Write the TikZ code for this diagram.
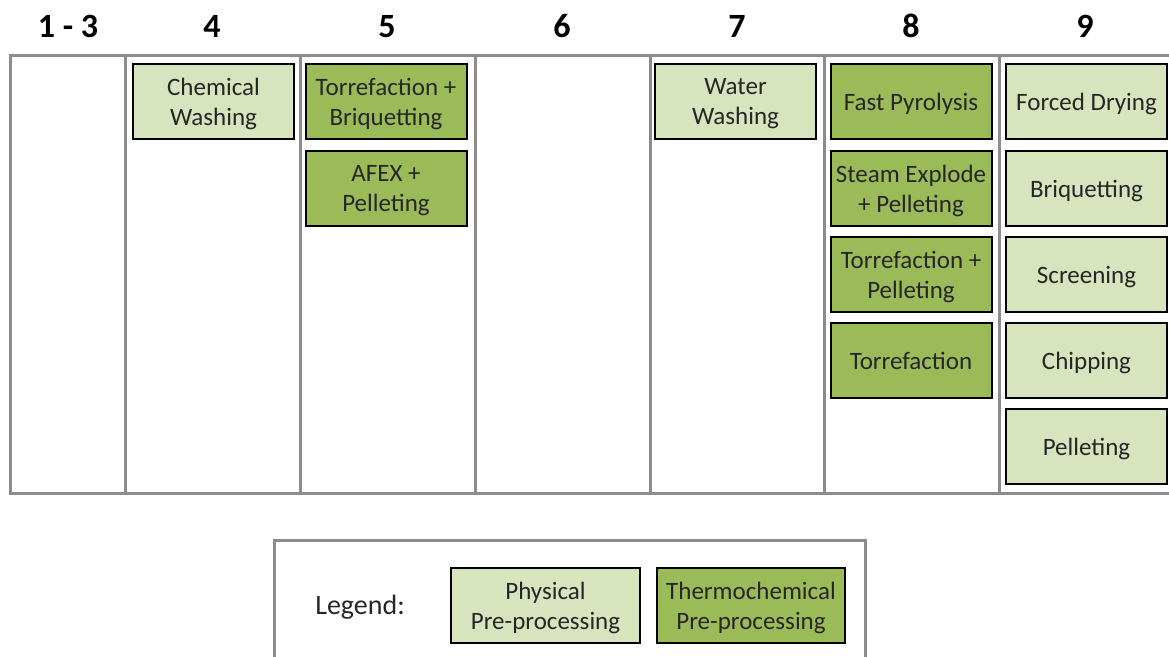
\documentclass[tikz,border=0pt]{standalone}
\usepackage{fontspec}
\setmainfont{Carlito}
\usetikzlibrary{positioning}

\definecolor{physgreen}{HTML}{D7E4BD}
\definecolor{thermgreen}{HTML}{9BBB59}
\definecolor{framegray}{HTML}{8C8C8C}

\begin{document}
\begin{tikzpicture}[x=0.5pt,y=-0.5pt,
  stage/.style={font=\fontsize{17}{20}\selectfont\bfseries,text depth=0pt},
  proc/.style={draw=black,line width=1pt,minimum width=80.5pt,minimum height=37.5pt,
    align=center,inner sep=1pt,text depth=0pt,text=black!85,font=\fontsize{12.5}{15}\selectfont},
  phys/.style={proc,fill=physgreen},
  therm/.style={proc,fill=thermgreen}]
\useasboundingbox (0,0) rectangle (1169,657);

% stage columns
\draw[framegray,line width=1.5pt] (10,56) rectangle (1175,494);
\foreach \x in {125,300,475,650,824,999}
	\draw[framegray,line width=1.5pt] (\x,56) -- (\x,494);

\node[stage] (s1) at (68,26) {1 - 3};
\node[stage] (s4) at (212,26) {4};
\node[stage] (s5) at (387,26) {5};
\node[stage] (s6) at (562,26) {6};
\node[stage] (s7) at (737,26) {7};
\node[stage] (s8) at (911,26) {8};
\node[stage] (s9) at (1085,26) {9};

% stage 4
\node[phys] (chemwash) at (213.5,101.5) {Chemical\\Washing};
% stage 5
\node[therm] (torrbriq) at (386,101.5) {Torrefaction +\\Briquetting};
\node[therm] (afexpel) at (386,188.5) {AFEX +\\Pelleting};
% stage 7
\node[phys] (waterwash) at (735.5,101.5) {Water\\Washing};
% stage 8
\node[therm] (fastpyro) at (911,101.5) {Fast Pyrolysis};
\node[therm] (steampel) at (911,188.5) {Steam Explode\\+ Pelleting};
\node[therm] (torrpel) at (911,274.5) {Torrefaction +\\Pelleting};
\node[therm] (torr) at (911,361) {Torrefaction};
% stage 9
\node[phys] (drying) at (1086.5,101.5) {Forced Drying};
\node[phys] (briq) at (1086.5,188.5) {Briquetting};
\node[phys] (screen) at (1086.5,274.5) {Screening};
\node[phys] (chip) at (1086.5,361) {Chipping};
\node[phys] (pellet) at (1086.5,446.5) {Pelleting};

% legend
\draw[framegray,line width=1.5pt] (274,670) -- (274,541) -- (865,541) -- (865,670);
\node[font=\fontsize{14}{17}\selectfont,text=black!85] (legend) at (360,607) {Legend:};
\node[phys,minimum width=94.5pt] (legphys) at (545.5,605.5) {Physical\\Pre-processing};
\node[therm,minimum width=94pt] (legtherm) at (751,605.5) {Thermochemical\\Pre-processing};
\end{tikzpicture}
\end{document}
